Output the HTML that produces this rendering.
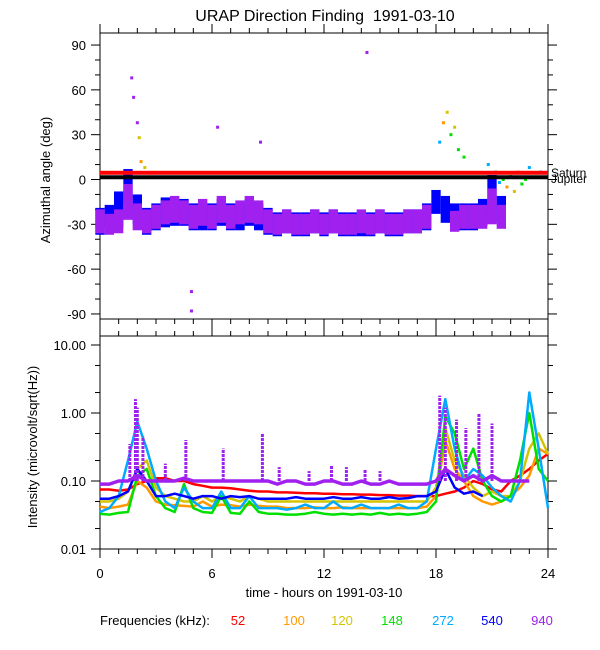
<!DOCTYPE html>
<html><head><meta charset="utf-8"><style>
body{margin:0;background:#fff}
svg{display:block;font-family:"Liberation Sans",Arial,sans-serif}
</style></head><body>
<svg id="c" width="600" height="650" viewBox="0 0 600 650">
<text x="325" y="21" text-anchor="middle" font-size="16" style="white-space:pre">URAP Direction Finding  1991-03-10</text>
<g id="topPanel"></g>
<g id="botPanel"></g>
<text transform="translate(50,180) rotate(-90)" text-anchor="middle" font-size="13">Azimuthal angle (deg)</text>
<text transform="translate(37,447) rotate(-90)" text-anchor="middle" font-size="13">Intensity (microvolt/sqrt(Hz))</text>
<text x="324" y="597" text-anchor="middle" font-size="13">time - hours on 1991-03-10</text>
<g id="leg" font-size="13"></g>
</svg>
<script>
const hoursTicks=[0,6,12,18,24];
const angleTicks=[90,60,30,0,-30,-60,-90];
const intTicks=[10,1,0.1,0.01];
const intTickLabels=["10.00","1.00","0.10","0.01"];
const freqs=["52","100","120","148","272","540","940"];
const colors=["#ff0000","#ff9900","#d4c400","#00e000","#00aaff","#0000ff","#a020f0"];
// azimuth: half-hourly center and spread (deg)
const purpleC=[-28,-30,-28,-15,-25,-28,-25,-22,-20,-22,-25,-22,-25,-20,-25,-22,-20,-22,-28,-30,-28,-30,-30,-28,-30,-28,-30,-30,-28,-30,-28,-30,-30,-28,-28,-25,null,null,-28,-25,-25,-25,-18,-25,null,null,null,null,null];
const purpleS=[8,7,8,12,9,8,8,8,9,8,8,9,8,9,8,8,9,8,8,7,8,7,7,8,7,8,7,7,8,7,8,7,7,8,8,8,0,0,7,8,8,8,12,8,0,0,0,0,0];
const blueC=[-28,-25,-20,-5,-20,-28,-25,-22,-22,-22,-25,-25,-25,-22,-25,-25,-22,-25,-28,-30,-28,-30,-30,-28,-30,-28,-30,-30,-30,-30,-28,-30,-30,-28,-28,-25,-15,-20,-25,-25,-25,-22,-10,-20,null,null,null,null,null];
const blueS=[9,8,12,12,10,9,9,10,9,9,9,9,9,9,9,9,9,9,9,8,8,8,8,8,8,8,8,8,8,8,8,8,8,8,8,9,8,9,9,9,9,9,13,9,0,0,0,0,0];
const scatterH=[1.7,1.8,2.0,2.1,4.9,4.9,6.3,8.6,14.3,18.2,18.4,18.6,18.8,19.0,19.2,19.5,20.8,21.2,21.4,21.6,21.8,22.0,22.2,22.4,22.6,22.8,23.0,23.6,2.2,2.4];
const scatterA=[68,55,38,28,-75,-88,35,25,85,25,38,45,30,35,20,15,10,5,-2,0,-5,2,-8,5,-3,0,8,5,12,8];
const scatterK=[6,6,6,2,6,6,6,6,6,4,1,2,3,2,3,3,4,3,4,3,1,3,2,1,3,3,4,4,1,2];
// intensity: half-hourly values per frequency
const sRed=[0.075,0.075,0.072,0.075,0.09,0.1,0.11,0.11,0.1,0.1,0.09,0.085,0.08,0.08,0.078,0.075,0.072,0.07,0.07,0.068,0.068,0.067,0.066,0.066,0.065,0.065,0.064,0.064,0.063,0.063,0.062,0.062,0.061,0.061,0.06,0.06,0.06,0.065,0.07,0.08,0.1,0.09,0.075,0.07,0.1,0.12,0.15,0.2,0.25];
const sOrange=[0.042,0.04,0.042,0.045,0.1,0.08,0.05,0.045,0.044,0.043,0.042,0.05,0.042,0.045,0.044,0.042,0.045,0.043,0.042,0.042,0.04,0.04,0.04,0.041,0.04,0.04,0.041,0.04,0.04,0.04,0.04,0.04,0.04,0.04,0.04,0.042,0.06,0.4,0.15,0.1,0.06,0.05,0.045,0.05,0.06,0.08,0.12,0.3,0.25];
const sYellow=[0.05,0.05,0.055,0.07,0.15,0.2,0.08,0.06,0.055,0.05,0.05,0.06,0.05,0.06,0.055,0.05,0.06,0.055,0.05,0.05,0.05,0.05,0.05,0.05,0.05,0.05,0.05,0.05,0.05,0.05,0.05,0.05,0.05,0.05,0.05,0.05,0.08,0.6,0.2,0.12,0.08,0.06,0.07,0.06,0.06,0.1,0.3,0.5,0.25];
const sGreen=[0.033,0.032,0.034,0.035,0.12,0.15,0.06,0.04,0.035,0.09,0.04,0.035,0.034,0.06,0.034,0.033,0.05,0.035,0.033,0.033,0.032,0.032,0.033,0.035,0.033,0.032,0.033,0.032,0.033,0.032,0.034,0.032,0.033,0.032,0.033,0.035,0.05,0.9,0.5,0.15,0.3,0.1,0.06,0.05,0.06,0.2,1.0,0.15,0.1];
const sCyan=[0.035,0.04,0.06,0.2,0.75,0.3,0.1,0.05,0.04,0.08,0.05,0.04,0.04,0.07,0.04,0.04,0.06,0.04,0.04,0.04,0.038,0.04,0.045,0.04,0.04,0.05,0.04,0.04,0.045,0.04,0.04,0.04,0.045,0.04,0.04,0.05,0.3,1.6,0.3,0.1,0.15,0.12,0.08,0.06,0.05,0.1,2.0,0.3,0.04];
const sBlue=[0.055,0.055,0.06,0.07,0.15,0.1,0.06,0.06,0.065,0.06,0.055,0.06,0.06,0.055,0.06,0.058,0.06,0.055,0.055,0.055,0.055,0.058,0.055,0.055,0.055,0.058,0.055,0.055,0.058,0.055,0.055,0.058,0.055,0.056,0.06,0.06,0.07,0.15,0.08,0.065,0.07,0.06,null,null,null,null,null,null,null];
const sPurple=[0.09,0.09,0.1,0.1,0.12,0.1,0.1,0.1,0.1,0.11,0.1,0.1,0.1,0.1,0.1,0.1,0.1,0.1,0.1,0.09,0.1,0.1,0.09,0.09,0.1,0.1,0.09,0.09,0.1,0.09,0.09,0.1,0.09,0.09,0.09,0.09,0.1,0.15,0.12,0.1,0.12,0.1,0.12,0.1,0.1,0.1,0.1,null,null];
const purpleSpikeH=[1.6,1.9,2.0,2.3,3.5,4.6,6.6,8.7,9.6,11.2,12.4,13.2,14.2,15.0,18.2,18.5,19.1,19.6,20.3,21.0];
const purpleSpikeV=[0.35,1.6,1.2,0.45,0.18,0.4,0.3,0.5,0.16,0.14,0.17,0.16,0.15,0.14,1.8,1.2,0.8,0.6,1.0,0.7];
const series=[sRed,sOrange,sYellow,sGreen,sCyan,sBlue,sPurple];

const NS="http://www.w3.org/2000/svg";
const X0=100,X1=548;
const xS=h=>X0+h*(X1-X0)/24;
const yA=a=>179.5-a*1.494;
const yI=v=>549-(Math.log10(v)+2)*68;
function mk(p,tag,at){const e=document.createElementNS(NS,tag);for(const k in at)e.setAttribute(k,at[k]);p.appendChild(e);return e;}
const gTop=document.getElementById('topPanel'),gBot=document.getElementById('botPanel');

function frame(g,y0,y1){
  const r=mk(g,'rect',{x:X0,y:y0,width:X1-X0,height:y1-y0,fill:'none',stroke:'#000','stroke-width':1});
  
  
  for(let h=0;h<=24;h++){
    const L=h%6===0?9:5;
    mk(g,'line',{x1:xS(h),x2:xS(h),y1:y0,y2:y0-L,stroke:'#000'});
    mk(g,'line',{x1:xS(h),x2:xS(h),y1:y1,y2:y1+L,stroke:'#000'});
  }
}
// top panel
frame(gTop,33,319);
for(let a=-90;a<=90;a+=10){
  const L=a%30===0?9:5;
  mk(gTop,'line',{x1:X0,x2:X0-L,y1:yA(a),y2:yA(a),stroke:'#000'});
  mk(gTop,'line',{x1:X1,x2:X1+L,y1:yA(a),y2:yA(a),stroke:'#000'});
}
angleTicks.forEach(a=>{const t=mk(gTop,'text',{x:86,y:yA(a)+5,'text-anchor':'end','font-size':13});t.textContent=a;
 
 });
const w=(X1-X0)/48;
blueC.forEach((c,i)=>{if(c==null)return;const b=mk(gTop,'rect',{x:xS(i/2)-w/2,y:yA(c+blueS[i]),width:w,height:yA(c-blueS[i])-yA(c+blueS[i]),fill:'#0000ff'});
 
 });
purpleC.forEach((c,i)=>{if(c==null)return;const b=mk(gTop,'rect',{x:xS(i/2)-w/2,y:yA(c+purpleS[i]),width:w,height:yA(c-purpleS[i])-yA(c+purpleS[i]),fill:'#a020f0'});
 
 });
scatterH.forEach((h,i)=>{const p=mk(gTop,'rect',{x:xS(h)-1.5,y:yA(scatterA[i])-1.5,width:3,height:3,fill:colors[scatterK[i]]});
 
 });
mk(gTop,'rect',{x:X0,y:yA(4.5)-2,width:X1-X0,height:4,fill:'#ff0000',});
mk(gTop,'rect',{x:X0,y:yA(1.5)-2,width:X1-X0,height:4,fill:'#000',});
let lab=mk(gTop,'text',{x:551,y:177,'font-size':12});lab.textContent='Saturn';

lab=mk(gTop,'text',{x:551,y:183,'font-size':12});lab.textContent='Jupiter';


// bottom panel
frame(gBot,336,549);
[0.01,0.1,1,10].forEach(d=>{
  [1,2,5].forEach(m=>{const v=d*m;if(v>10)return;const L=m===1?9:5;
   mk(gBot,'line',{x1:X0,x2:X0-L,y1:yI(v),y2:yI(v),stroke:'#000'});
   mk(gBot,'line',{x1:X1,x2:X1+L,y1:yI(v),y2:yI(v),stroke:'#000'});});
});
intTicks.forEach((v,i)=>{const t=mk(gBot,'text',{x:86,y:yI(v)+5,'text-anchor':'end','font-size':13});t.textContent=intTickLabels[i];
 });
series.forEach((s,k)=>{
  let d='';let pen=false;
  s.forEach((v,i)=>{if(v==null){pen=false;return;}d+=(pen?'L':'M')+xS(i/2).toFixed(1)+','+yI(v).toFixed(1);pen=true;});
  const p=mk(gBot,'path',{d:d,fill:'none',stroke:colors[k],'stroke-width':k===6?3.5:2.5,'stroke-linejoin':'round'});
  
  
});
purpleSpikeH.forEach((h,i)=>{const l=mk(gBot,'line',{x1:xS(h),x2:xS(h),y1:yI(0.1),y2:yI(purpleSpikeV[i]),stroke:'#a020f0','stroke-width':3,'stroke-dasharray':'3,1'});
 
 });
hoursTicks.forEach(h=>{const t=mk(gBot,'text',{x:xS(h),y:578,'text-anchor':'middle','font-size':13});t.textContent=h;
 });

// legend
const leg=document.getElementById('leg');
lab=mk(leg,'text',{x:100,y:625});lab.textContent='Frequencies (kHz):';

const lx=[238,294,342,392,443,492,542];
freqs.forEach((f,i)=>{const e=mk(leg,'text',{x:lx[i],y:625,'text-anchor':'middle',fill:colors[i]});e.textContent=f;
 });
</script>
</body></html>
